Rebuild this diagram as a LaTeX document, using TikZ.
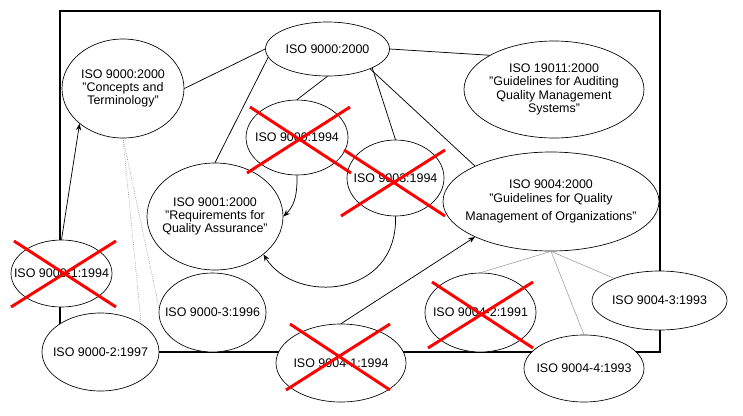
\documentclass[tikz,border=0pt]{standalone}
\usepackage{fontspec}
\setmainfont{Liberation Sans}
\usetikzlibrary{shapes.geometric,arrows.meta}
\newcommand{\lbfont}{\fontsize{9.35pt}{10pt}\selectfont}
\tikzset{
  ell/.style={ellipse, draw=black, fill=white, line width=0.5pt, inner sep=0pt},
  sz/.style 2 args={minimum width=#1*1.5pt, minimum height=#2*1.5pt},
  lbl/.style={align=center, font=\lbfont, inner sep=0pt},
  conn/.style={line width=0.55pt, black},
  arr/.style={conn, -{Stealth[length=5pt,width=4pt]}},
  dotl/.style={gray, densely dotted, line width=0.45pt},
  thinl/.style={gray!80, line width=0.4pt},
  frame/.style={line width=1.1pt, black},
  cross/.style={red, line width=2.2pt}
}
\begin{document}
\begin{tikzpicture}[x=0.75pt, y=-0.75pt]
\useasboundingbox (0,0) rectangle (743,415);
\draw[frame] (60,11) rectangle (660,352);

\node[ell, sz={62}{27}, label={[lbl]center:ISO 9000:2000}] (top) at (327.5,49) {};
\node[ell, sz={61}{49.5}, label={[lbl]center:ISO 9000:2000\\"Concepts and\\Terminology"}] (con) at (123,88.5) {};
\node[ell, sz={90}{48.5}, label={[lbl]center:ISO 19011:2000\\"Guidelines for Auditing\\Quality Management\\Systems"}] (aud) at (554,89.5) {};
\node[ell, sz={51}{37.5}, label={[lbl]center:ISO 9000:1994}] (o94) at (297,137.5) {};
\node[ell, sz={48.5}{38}, label={[lbl]center:ISO 9003:1994}] (q3) at (395.5,178) {};
\node[ell, sz={68}{53.5}, label={[lbl]center:ISO 9001:2000\\"Requirements for\\Quality Assurance"}] (q1) at (215,216.5) {};
\node[ell, sz={108}{49.5}, label={[lbl]center:ISO 9004:2000\\[0.6pt]"Guidelines for Quality\\[3.2pt]Management of Organizations"}] (g4) at (551,201.5) {};
\node[ell, sz={50.5}{33.5}, label={[lbl]center:ISO 9000-1:1994}] (p1) at (61.5,273.5) {};
\node[ell, sz={58.5}{39}, label={[lbl]center:ISO 9000-2:1997}] (p2) at (100.5,352) {};
\node[ell, sz={53.5}{39.5}, label={[lbl]center:ISO 9000-3:1996}] (p3) at (212.5,312.5) {};
\node[ell, sz={65}{39}, label={[lbl]center:ISO 9004-1:1994}] (f1) at (341,363) {};
\node[ell, sz={55.5}{39.5}, label={[lbl]center:ISO 9004-2:1991}] (f2) at (480.5,312.5) {};
\node[ell, sz={67.5}{29.5}, label={[lbl]center:ISO 9004-3:1993}] (f3) at (659.5,300.5) {};
\node[ell, sz={60}{33.5}, label={[lbl]center:ISO 9004-4:1993}] (f4) at (584,368.5) {};

\draw[conn] (top.west) -- (con.east);
\draw[conn] (top.east) -- (aud.152);
\draw[conn] (top.south) -- (o94.north);
\draw[conn] (top.188) -- (q1.north);
\draw[conn] (top.337) -- (q3.north);
\draw[conn] (top.335) -- (g4.155);
\draw[arr] (o94.south) .. controls (297.5,198) and (293,207) .. (q1.east);
\draw[arr] (q3.south) .. controls (398,298) and (295,305) .. (q1.322);
\draw[arr] (p1.north) -- (con.219);
\draw[arr] (f1.north) -- (g4.205);
\draw[dotl] (con.south) -- (p3.175);
\draw[dotl] (con.south) -- (p2.35);
\draw[thinl] (g4.south) -- (f2.north);
\draw[thinl] (g4.south) -- (f4.north);
\draw[thinl] (g4.south) -- (f3.154);

\draw[cross] (250,107) -- (351,173) (350,107) -- (247,173);
\draw[cross] (344,150) -- (445,216) (445,150) -- (341,216);
\draw[cross] (14,241) -- (116,307) (116,241) -- (11,307);
\draw[cross] (290,324) -- (390,390) (390,324) -- (286,390);
\draw[cross] (432,282) -- (533,348) (533,282) -- (428,348);
\end{tikzpicture}
\end{document}
